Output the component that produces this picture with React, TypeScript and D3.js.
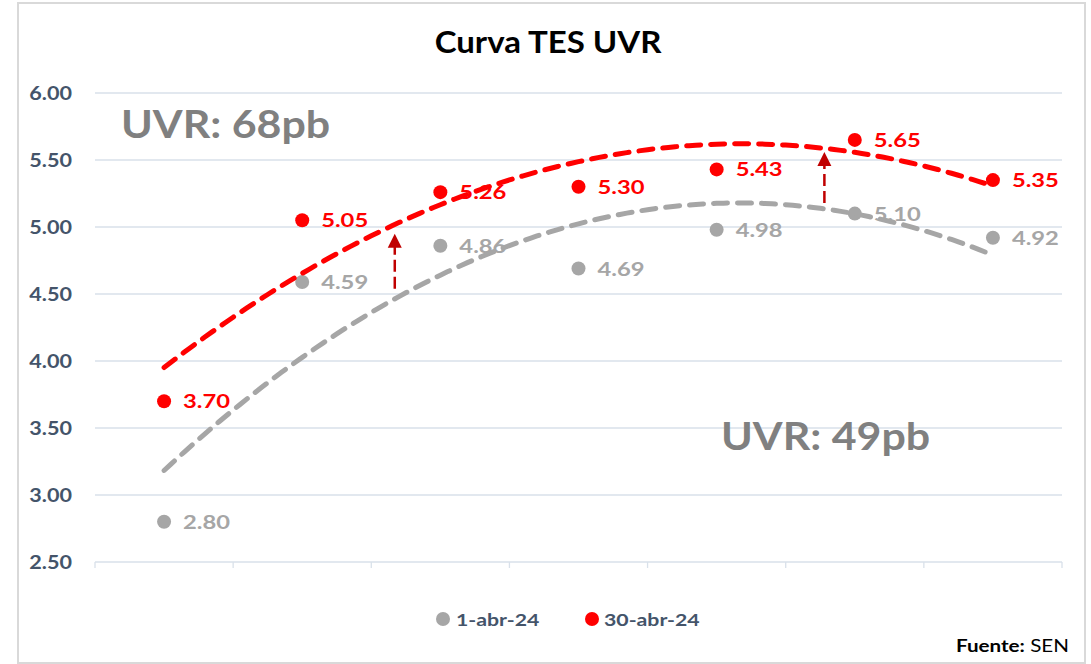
import React from "react";
import * as d3 from "d3";

const categories = ["1", "2", "3", "4", "5", "6", "7"];
const serieApr1 = [2.8, 4.59, 4.86, 4.69, 4.98, 5.1, 4.92];
const serieApr30 = [3.7, 5.05, 5.26, 5.3, 5.43, 5.65, 5.35];
const seriesNames = ["1-abr-24", "30-abr-24"];
const yTicks = [2.5, 3.0, 3.5, 4.0, 4.5, 5.0, 5.5, 6.0];
// arrows: position in category units (0-based), from value -> to value
const arrowX = [1.67, 4.78];
const arrowFrom = [4.54, 5.18];
const arrowTo = [4.95, 5.56];

const W = 1091;
const H = 664;
const FONT = "Lato, 'Open Sans', sans-serif";

function quadFit(ys: number[]) {
  const xs = ys.map((_, i) => i);
  const s = [0, 0, 0, 0, 0];
  const t = [0, 0, 0];
  xs.forEach((x, i) => {
    for (let k = 0; k <= 4; k++) s[k] += Math.pow(x, k);
    for (let k = 0; k <= 2; k++) t[k] += Math.pow(x, k) * ys[i];
  });
  const M = [
    [s[0], s[1], s[2], t[0]],
    [s[1], s[2], s[3], t[1]],
    [s[2], s[3], s[4], t[2]],
  ];
  for (let i = 0; i < 3; i++) {
    for (let j = i + 1; j < 3; j++) {
      const f = M[j][i] / M[i][i];
      for (let k = i; k < 4; k++) M[j][k] -= f * M[i][k];
    }
  }
  const c = [0, 0, 0];
  for (let i = 2; i >= 0; i--) {
    let v = M[i][3];
    for (let k = i + 1; k < 3; k++) v -= M[i][k] * c[k];
    c[i] = v / M[i][i];
  }
  return (x: number) => c[0] + c[1] * x + c[2] * x * x;
}

function ST(props: {
  x: number;
  y: number;
  sx: number;
  size: number;
  fill: string;
  weight?: number;
  anchor?: string;
  children: React.ReactNode;
}) {
  const { x, y, sx, size, fill, weight = 700, anchor = "start", children } = props;
  return (
    <text
      transform={`translate(${x},${y}) scale(${sx},1)`}
      fontSize={size}
      fontWeight={weight}
      fill={fill}
      textAnchor={anchor}
    >
      {children}
    </text>
  );
}

export default function App() {
  const left = 95;
  const right = 1062;
  const top = 93;
  const bottom = 562;
  const x = d3.scaleBand<string>().domain(categories).range([left, right]).padding(0);
  const bw = x.bandwidth();
  const cx = (i: number) => left + bw * (i + 0.5);
  const y = d3.scaleLinear().domain([2.5, 6.0]).range([bottom, top]);

  const fitGrey = quadFit(serieApr1);
  const fitRed = quadFit(serieApr30);
  const samples = d3.range(0, 6.0001, 0.05);
  const line = d3
    .line<number>()
    .x((d) => cx(d))
    .curve(d3.curveLinear);
  const greyPath = line.y((d) => y(fitGrey(d)))(samples) || "";
  const redPath = line.y((d) => y(fitRed(d)))(samples) || "";

  const grey = "#A6A6A6";
  const red = "#FF0000";
  const axisText = "#44546A";
  const boundaries = d3.range(0, categories.length + 1).map((i) => left + bw * i);

  return (
    <svg width={W} height={H} style={{ position: "absolute", left: 0, top: 0, fontFamily: FONT }}>
      <rect x={0} y={0} width={W} height={H} fill="#fff" />
      <rect x={18} y={3} width={1067} height={660} fill="#fff" stroke="#D9D9D9" strokeWidth={2} />
      <ST x={548} y={53} sx={1.1} size={30} fill="#000" anchor="middle">
        Curva TES UVR
      </ST>
      {yTicks.map((t) => (
        <g key={t}>
          <line x1={left} x2={right} y1={y(t)} y2={y(t)} stroke="#D9E1EA" strokeWidth={1.3} />
          <ST x={72} y={y(t) + 6.5} sx={1.2} size={18} fill={axisText} anchor="end">
            {t.toFixed(2)}
          </ST>
        </g>
      ))}
      {boundaries.map((b, i) => (
        <line key={i} x1={b} x2={b} y1={bottom} y2={bottom + 6} stroke="#D9E1EA" strokeWidth={1.3} />
      ))}
      <ST x={121} y={138} sx={1.1} size={39} fill="#808080">
        UVR: 68pb
      </ST>
      <ST x={721} y={450} sx={1.1} size={39} fill="#808080">
        UVR: 49pb
      </ST>
      {serieApr1.map((v, i) => (
        <g key={"g" + i}>
          <circle cx={cx(i)} cy={y(v)} r={7} fill={grey} />
          <ST x={cx(i) + 19} y={y(v) + 7} sx={1.25} size={19} fill={grey}>
            {v.toFixed(2)}
          </ST>
        </g>
      ))}
      {serieApr30.map((v, i) => (
        <g key={"r" + i}>
          <circle cx={cx(i)} cy={y(v)} r={7} fill={red} />
          <ST x={cx(i) + 19} y={y(v) + 7} sx={1.25} size={19} fill={red}>
            {v.toFixed(2)}
          </ST>
        </g>
      ))}
      <path d={greyPath} fill="none" stroke={grey} strokeWidth={5} strokeDasharray="14 10" strokeLinecap="round" />
      <path d={redPath} fill="none" stroke={red} strokeWidth={5} strokeDasharray="14 10" strokeLinecap="round" />
      {arrowX.map((ax, i) => {
        const px = cx(ax);
        const y0 = y(arrowFrom[i]);
        const y1 = y(arrowTo[i]);
        return (
          <g key={"a" + i}>
            <line x1={px} x2={px} y1={y0} y2={y1 + 12} stroke="#C00000" strokeWidth={2.5} strokeDasharray="12 5" />
            <path d={`M${px},${y1} L${px - 7},${y1 + 14} L${px + 7},${y1 + 14} Z`} fill="#C00000" />
          </g>
        );
      })}
      <g>
        <circle cx={443} cy={619} r={7} fill={grey} />
        <ST x={456} y={626} sx={1.25} size={17} fill={axisText}>
          {seriesNames[0]}
        </ST>
        <circle cx={592} cy={619} r={7} fill={red} />
        <ST x={604} y={626} sx={1.25} size={17} fill={axisText}>
          {seriesNames[1]}
        </ST>
      </g>
      <text transform="translate(1069,652) scale(1.25,1)" textAnchor="end" fontSize={16.5} fill="#000">
        <tspan fontWeight={700}>Fuente:</tspan>
        <tspan> SEN</tspan>
      </text>
    </svg>
  );
}
